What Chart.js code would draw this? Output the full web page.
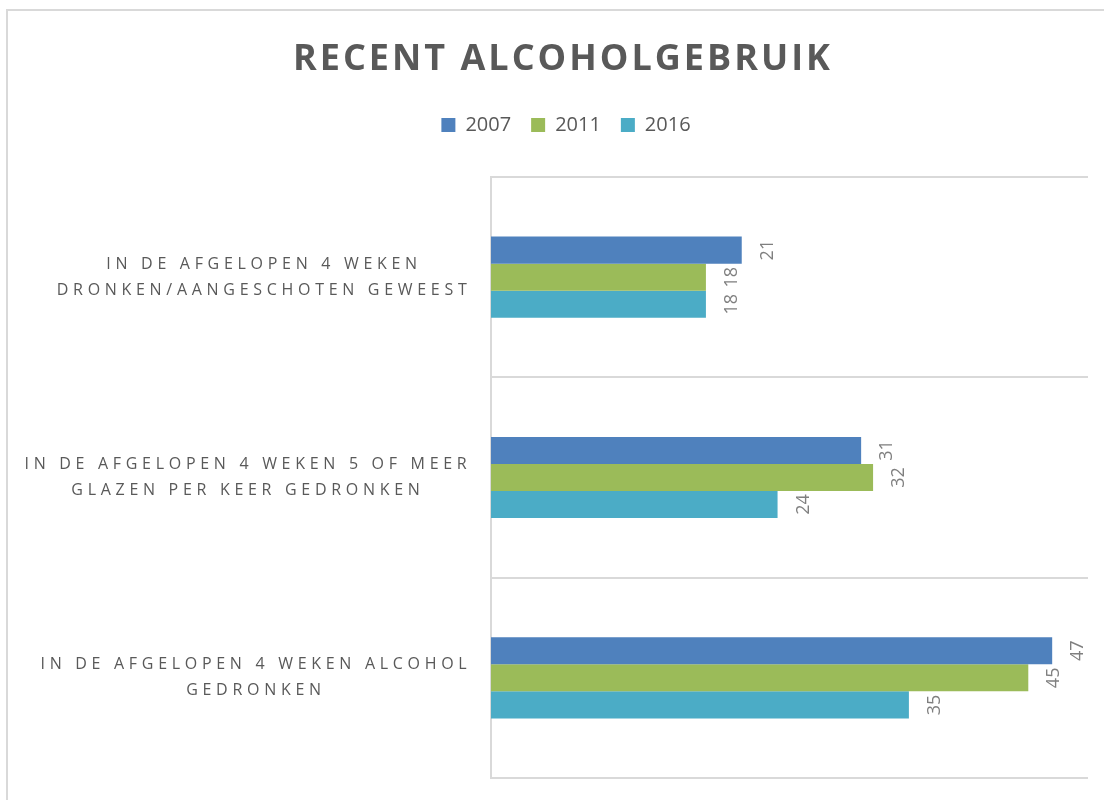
<!DOCTYPE html>
<html><head><meta charset="utf-8">
<script src="https://cdn.jsdelivr.net/npm/chart.js@4/dist/chart.umd.min.js"></script>
<style>html,body{margin:0;padding:0;background:#fff}#wrap{width:1104px;height:800px;position:relative}</style>
</head><body><div id="wrap"><canvas id="c" width="1104" height="800"></canvas></div>
<script>
const chartTitle = 'RECENT ALCOHOLGEBRUIK';
const categories = [
  ['IN DE AFGELOPEN 4 WEKEN', 'DRONKEN/AANGESCHOTEN GEWEEST'],
  ['IN DE AFGELOPEN 4 WEKEN 5 OF MEER', 'GLAZEN PER KEER GEDRONKEN'],
  ['IN DE AFGELOPEN 4 WEKEN ALCOHOL', 'GEDRONKEN']
];
const seriesNames = ['2007', '2011', '2016'];
const values2007 = [21, 31, 47];
const values2011 = [18, 32, 45];
const values2016 = [18, 24, 35];
const xMin = 0, xMax = 50;

const FONT = "'Open Sans', sans-serif";
const colors = ['#4f81bd', '#9bbb59', '#4bacc6'];

const framePlugin = {
  id: 'frame',
  beforeDraw(chart) {
    const ctx = chart.ctx;
    ctx.save();
    ctx.fillStyle = '#fff';
    ctx.fillRect(0, 0, chart.width, chart.height);
    ctx.strokeStyle = '#d9d9d9';
    ctx.lineWidth = 2;
    ctx.beginPath();
    ctx.moveTo(7, chart.height + 5);
    ctx.lineTo(7, 10);
    ctx.lineTo(chart.width + 5, 10);
    ctx.stroke();
    ctx.restore();
  }
};

const textPlugin = {
  id: 'texts',
  afterDraw(chart) {
    const ctx = chart.ctx;
    const ys = chart.scales.y;
    const ca = chart.chartArea;
    // title
    ctx.save();
    ctx.fillStyle = '#595959';
    ctx.font = "bold 36px " + FONT;
    ctx.letterSpacing = '3px';
    ctx.textAlign = 'center';
    ctx.textBaseline = 'alphabetic';
    ctx.fillText(chartTitle, 563, 70);
    ctx.restore();
    // category labels
    ctx.save();
    ctx.fillStyle = '#595959';
    ctx.font = "16px " + FONT;
    ctx.letterSpacing = '4.7px';
    ctx.textAlign = 'center';
    ctx.textBaseline = 'middle';
    categories.forEach((lines, i) => {
      const yc = ys.getPixelForValue(i);
      const widths = lines.map(l => ctx.measureText(l).width);
      const maxW = Math.max(...widths);
      const cx = ca.left - 22 - maxW / 2 + 2.4;
      const lh = 26;
      const start = yc - (lines.length - 1) * lh / 2;
      lines.forEach((l, k) => ctx.fillText(l, cx, start + k * lh));
    });
    ctx.restore();
  },
  afterDatasetsDraw(chart) {
    const ctx = chart.ctx;
    ctx.save();
    ctx.fillStyle = '#7f7f7f';
    ctx.font = "18px " + FONT;
    ctx.textAlign = 'center';
    ctx.textBaseline = 'middle';
    chart.data.datasets.forEach((ds, di) => {
      const meta = chart.getDatasetMeta(di);
      meta.data.forEach((el, i) => {
        ctx.save();
        ctx.translate(el.x + 26, el.y);
        ctx.rotate(-Math.PI / 2);
        ctx.fillText(String(ds.data[i]), 0, 0);
        ctx.restore();
      });
    });
    ctx.restore();
  }
};

new Chart(document.getElementById('c'), {
  type: 'bar',
  data: {
    labels: categories,
    datasets: [
      { label: seriesNames[0], data: values2007, backgroundColor: colors[0] },
      { label: seriesNames[1], data: values2011, backgroundColor: colors[1] },
      { label: seriesNames[2], data: values2016, backgroundColor: colors[2] }
    ]
  },
  options: {
    indexAxis: 'y',
    responsive: false,
    animation: false,
    devicePixelRatio: 1,
    layout: { padding: { left: 44, right: 16, bottom: 22, top: 95 } },
    datasets: { bar: { categoryPercentage: 0.405, barPercentage: 1.0, borderWidth: 0 } },
    scales: {
      x: {
        display: true, position: 'top', min: xMin, max: xMax,
        ticks: { display: false },
        grid: { display: false, drawTicks: false },
        border: { display: false },
        afterFit(scale) { scale.height = 32; }
      },
      y: {
        display: true,
        ticks: { display: false },
        grid: { offset: true, color: '#d9d9d9', lineWidth: 2, drawTicks: false },
        border: { display: true, color: '#d9d9d9', width: 2 },
        afterFit(scale) { scale.width = 447; }
      }
    },
    plugins: {
      legend: {
        display: true,
        position: 'top',
        labels: {
          boxWidth: 14, boxHeight: 14, padding: 20,
          color: '#595959',
          font: { family: FONT, size: 20 }
        }
      },
      title: { display: false },
      tooltip: { enabled: false }
    }
  },
  plugins: [framePlugin, textPlugin]
});
</script>
</body></html>
